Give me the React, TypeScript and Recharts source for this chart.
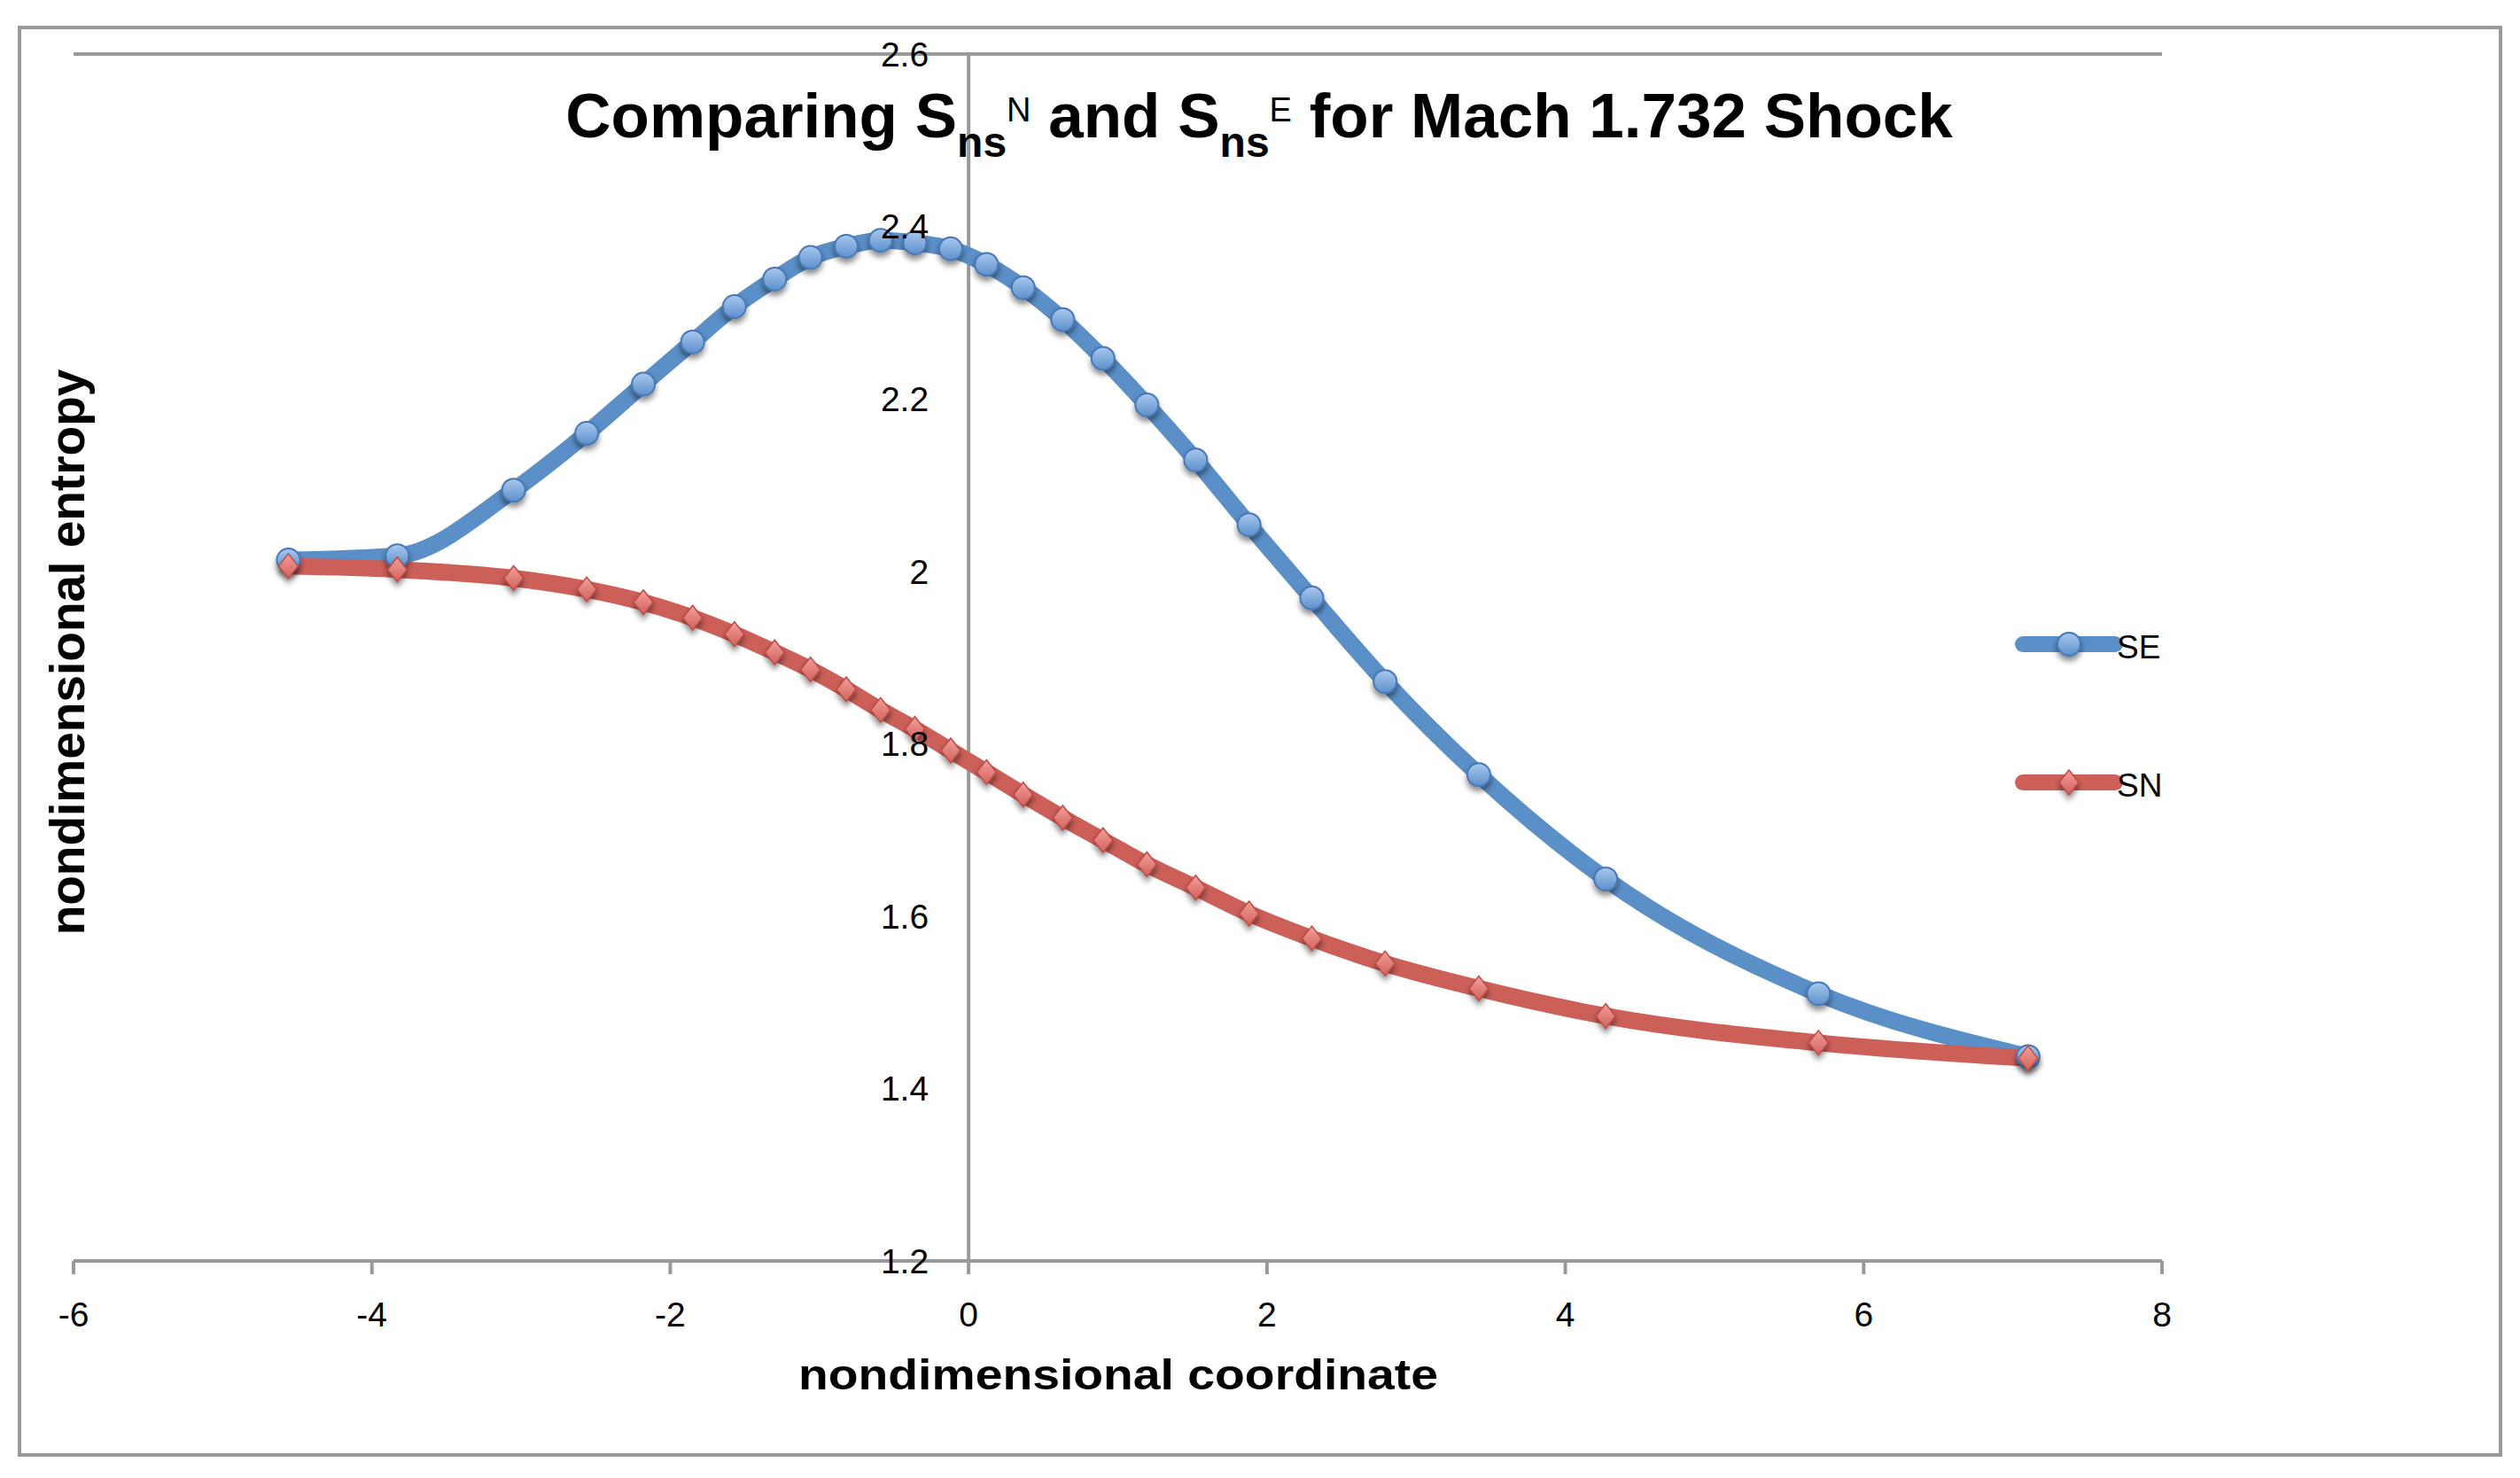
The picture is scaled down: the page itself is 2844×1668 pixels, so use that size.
import { LineChart, Line, XAxis, YAxis, CartesianGrid, ReferenceLine, ReferenceDot, Legend } from "recharts";

// values
const X_VALUES = [
  -4.56, -3.83, -3.05, -2.56, -2.18, -1.85, -1.57, -1.3, -1.06, -0.82, -0.59, -0.36, -0.12,
  0.12, 0.366, 0.631, 0.901, 1.195, 1.522, 1.88, 2.301, 2.792, 3.42, 4.271, 5.697, 7.102,
];
const SE_VALUES = [
  2.013, 2.018, 2.094, 2.16, 2.217, 2.266, 2.307, 2.339, 2.364, 2.377, 2.384, 2.381, 2.374,
  2.356, 2.329, 2.292, 2.247, 2.193, 2.129, 2.054, 1.969, 1.872, 1.764, 1.643, 1.51, 1.437,
];
const SN_VALUES = [
  2.006, 2.002, 1.992, 1.979, 1.964, 1.946, 1.927, 1.906, 1.886, 1.863, 1.839, 1.817, 1.792,
  1.767, 1.741, 1.714, 1.688, 1.66, 1.633, 1.603, 1.574, 1.545, 1.516, 1.484, 1.453, 1.435,
];
const X_TICKS = [-6, -4, -2, 0, 2, 4, 6, 8];
const Y_TICKS = [1.2, 1.4, 1.6, 1.8, 2.0, 2.2, 2.4, 2.6];

const data = X_VALUES.map((x, i) => ({ x, se: SE_VALUES[i], sn: SN_VALUES[i] }));

const FONT = "'Liberation Sans', Arial, sans-serif";
const GRID = "#999999";
const BLUE = "#5A8FC7";
const RED = "#CC5F58";

const fmt = (v: number) => String(Number(v.toFixed(1)));

function CircleDot(props: any) {
  const { cx, cy, index } = props;
  if (cx == null || cy == null) return null;
  return (
    <circle key={index} cx={cx} cy={cy} r={13} fill="url(#seFill)" stroke="#4677B5" strokeWidth={2} filter="url(#dotShadow)" />
  );
}

function DiamondDot(props: any) {
  const { cx, cy, index } = props;
  if (cx == null || cy == null) return null;
  return (
    <path
      key={index}
      d={`M${cx},${cy - 14} L${cx + 11},${cy} L${cx},${cy + 14} L${cx - 11},${cy} Z`}
      fill="url(#snFill)"
      stroke="#B94B46"
      strokeWidth={1.5}
      filter="url(#dotShadow)"
    />
  );
}

function LegendBox({ payload }: any) {
  return (
    <svg width={230} height={230}>
      {(payload || []).map((entry: any, i: number) => {
        const y = 37 + i * 156;
        const isSE = entry.dataKey === "se";
        return (
          <g key={entry.value}>
            <line x1={13} y1={y} x2={117} y2={y} stroke={entry.color} strokeWidth={18} strokeLinecap="round" />
            {isSE ? <CircleDot cx={65} cy={y} /> : <DiamondDot cx={65} cy={y} />}
            <text x={119} y={y + 16} fontFamily={FONT} fontSize={37} fill="#000">
              {entry.value}
            </text>
          </g>
        );
      })}
    </svg>
  );
}

export default function App() {
  return (
    <div style={{ position: "absolute", left: 0, top: 0, width: 2844, height: 1668, background: "#fff" }}>
      <svg width={0} height={0} style={{ position: "absolute" }}>
        <defs>
          <linearGradient id="seFill" x1="0" y1="0" x2="0" y2="1">
            <stop offset="0%" stopColor="#A9C8EE" />
            <stop offset="100%" stopColor="#5C8FCB" />
          </linearGradient>
          <linearGradient id="snFill" x1="0" y1="0" x2="0" y2="1">
            <stop offset="0%" stopColor="#F3A09B" />
            <stop offset="100%" stopColor="#D2605A" />
          </linearGradient>
          <filter id="dotShadow" x="-50%" y="-50%" width="200%" height="220%">
            <feDropShadow dx="0" dy="5" stdDeviation="3" floodColor="#000" floodOpacity="0.45" />
          </filter>
        </defs>
      </svg>

      <div
        style={{
          position: "absolute",
          left: 20,
          top: 29,
          width: 2804,
          height: 1615,
          border: `4px solid ${GRID}`,
          boxSizing: "border-box",
        }}
      />

      <div style={{ position: "absolute", left: 0, top: 0 }}>
        <LineChart width={2844} height={1668} data={data} margin={{ top: 61, right: 404, bottom: 145, left: 83 }}>
          <CartesianGrid vertical={false} stroke={GRID} strokeWidth={4} />
          <XAxis
            dataKey="x"
            type="number"
            domain={[-6, 8]}
            ticks={X_TICKS}
            height={100}
            axisLine={{ stroke: GRID, strokeWidth: 4 }}
            tickLine={{ stroke: GRID, strokeWidth: 4 }}
            tickSize={15}
            tickMargin={31}
            tick={{ fontSize: 39, fill: "#000", fontFamily: FONT }}
          />
          <YAxis
            type="number"
            domain={[1.2, 2.6]}
            ticks={Y_TICKS}
            width={0}
            tick={false}
            axisLine={false}
            tickLine={false}
          />
          <ReferenceLine x={0} stroke={GRID} strokeWidth={4} />
          {Y_TICKS.map((v) => (
            <ReferenceDot
              key={v}
              x={0}
              y={v}
              r={0}
              fill="none"
              stroke="none"
              label={{ value: fmt(v), position: "left", offset: 45, fontSize: 39, fill: "#000", fontFamily: FONT }}
            />
          ))}
          <Legend
            layout="horizontal"
            align="center"
            verticalAlign="middle"
            content={LegendBox}
            wrapperStyle={{ left: 2270, top: 690, width: 230, height: 230 }}
          />
          <Line
            type="monotone"
            dataKey="se"
            name="SE"
            stroke={BLUE}
            strokeWidth={19}
            strokeLinecap="round"
            dot={CircleDot}
            activeDot={false}
            isAnimationActive={false}
          />
          <Line
            type="monotone"
            dataKey="sn"
            name="SN"
            stroke={RED}
            strokeWidth={19}
            strokeLinecap="round"
            dot={DiamondDot}
            activeDot={false}
            isAnimationActive={false}
          />
        </LineChart>
      </div>

      <svg width={2844} height={1668} style={{ position: "absolute", left: 0, top: 0, pointerEvents: "none" }}>
        <text x={1421} y={155} textAnchor="middle" fontFamily={FONT} fontWeight="bold" fontSize={71} fill="#000">
          {"Comparing S"}
          <tspan dy={22} fontSize={48}>ns</tspan>
          <tspan dy={-40} fontSize={38} fontWeight="normal">N</tspan>
          <tspan dy={18}>{" and S"}</tspan>
          <tspan dy={22} fontSize={48}>ns</tspan>
          <tspan dy={-40} fontSize={38} fontWeight="normal">E</tspan>
          <tspan dy={18}>{" for Mach 1.732 Shock"}</tspan>
        </text>
        <text
          x={95}
          y={736}
          transform="rotate(-90 95 736)"
          textAnchor="middle"
          fontFamily={FONT}
          fontWeight="bold"
          fontSize={55}
          fill="#000"
        >
          nondimensional entropy
        </text>
        <text
          x={1262}
          y={1568}
          textAnchor="middle"
          fontFamily={FONT}
          fontWeight="bold"
          fontSize={48}
          textLength={722}
          lengthAdjust="spacingAndGlyphs"
          fill="#000"
        >
          nondimensional coordinate
        </text>
      </svg>
    </div>
  );
}
